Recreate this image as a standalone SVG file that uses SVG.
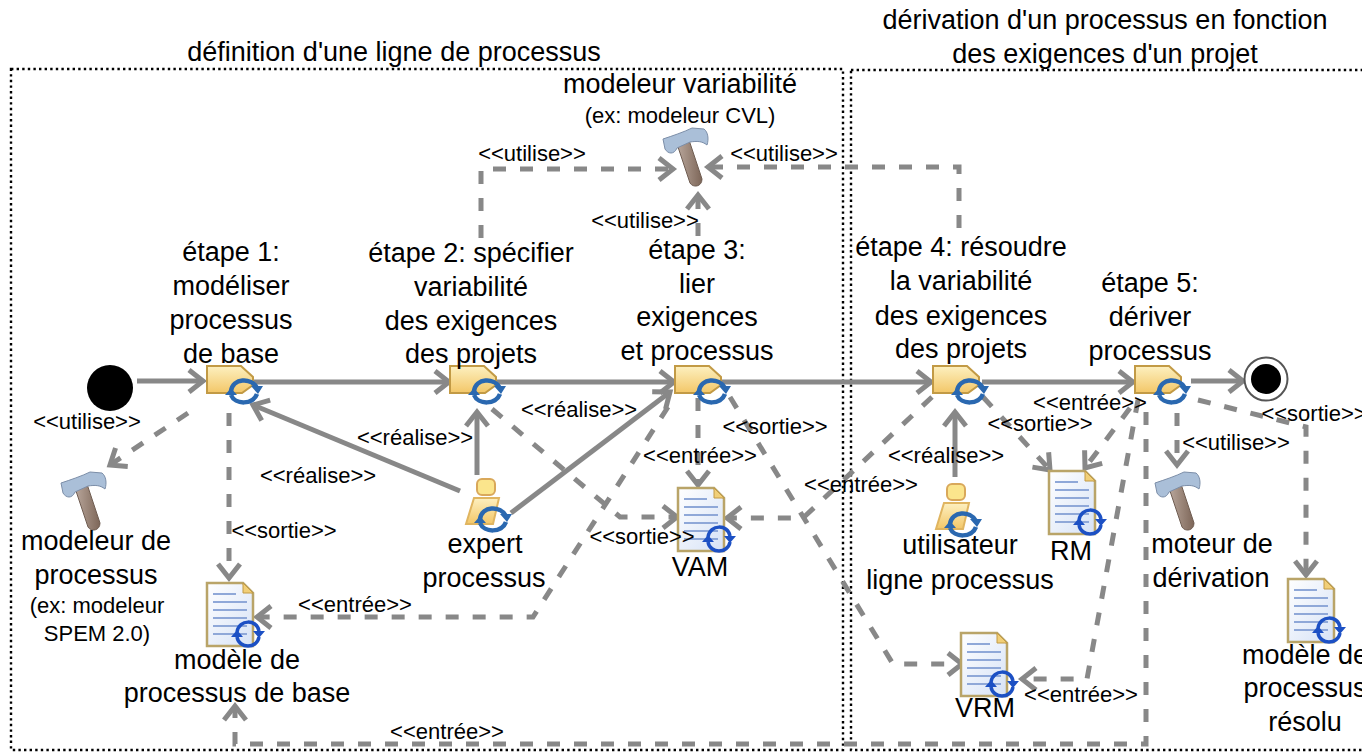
<svg xmlns="http://www.w3.org/2000/svg" width="1362" height="752" viewBox="0 0 1362 752">
<style>
text{font-family:"Liberation Sans",Arial,sans-serif;fill:#000;text-anchor:middle}
.t{font-size:27px}.l{font-size:22px}.s{font-size:22px}
.b{fill:none;stroke:#000;stroke-width:2.4;stroke-dasharray:2.4 3.2}
.c{fill:none;stroke:#888;stroke-width:5}
.d{fill:none;stroke:#888;stroke-width:5;stroke-dasharray:13 14}
</style>
<defs>
<linearGradient id="gt" x1="0" y1="0" x2="0" y2="1"><stop offset="0" stop-color="#fdf0c0"/><stop offset="1" stop-color="#f3c768"/></linearGradient>
<linearGradient id="gd" x1="0" y1="0" x2="1" y2="1"><stop offset="0" stop-color="#fff"/><stop offset="1" stop-color="#d6e2f6"/></linearGradient>
<linearGradient id="gh" x1="0" y1="0" x2="1" y2="0"><stop offset="0" stop-color="#b9a79c"/><stop offset="1" stop-color="#7d6658"/></linearGradient>
<marker id="a" markerUnits="userSpaceOnUse" markerWidth="26" markerHeight="26" refX="16" refY="11" orient="auto" overflow="visible"><path d="M2 0L16 11L2 22" fill="none" stroke="#888" stroke-width="5"/></marker>
<g id="sync" fill="none" stroke="#2a68b0" stroke-width="4.5"><path d="M-13 0C-11 -13 7 -14 13 -3"/><path d="M13 3C9 14 -9 14 -13 4"/><path d="M7 -5H19L14 3Z" fill="#2a68b0" stroke="none"/><path d="M-19 4H-7L-13 -3Z" fill="#2a68b0" stroke="none"/></g>
<g id="sync2" fill="none" stroke="#1c50c4" stroke-width="3.5"><path d="M-11 -2C-9 -15 9 -15 11 -3"/><path d="M11 3C9 15 -9 15 -11 3"/><path d="M5 -3H17L11 4Z" fill="#1c50c4" stroke="none"/><path d="M-17 3H-5L-11 -4Z" fill="#1c50c4" stroke="none"/></g>
<g id="task"><path d="M1 1H35L47 12V20L36 28H1Z" fill="url(#gt)" stroke="#c29a45" stroke-width="2"/><use href="#sync" x="38" y="26"/></g>
<g id="doc"><path d="M1 1H37L47 11V64H1Z" fill="url(#gd)" stroke="#b9a468" stroke-width="2.5"/><path d="M37 1V11H47Z" fill="#f1cf78" stroke="#c29a45"/><path d="M7 12H30M7 20H41M7 28H41M7 36H41M7 44H41M7 52H41" stroke="#8fa8d8" stroke-width="1.8"/><use href="#sync2" x="42" y="52"/></g>
<g id="tool"><path d="M15 16L27 12L40 51C40 59 31 60 28 55Z" fill="url(#gh)" stroke="#6f5d52"/><path d="M1 11C10 8 22 4 30 0L42 1C46 4 47 11 45 17C40 13 35 13 28 14L15 20C12 27 6 26 3 21Z" fill="#aabfd8" stroke="#7c8ea8"/></g>
<g id="actor"><rect x="11" y="1" width="18" height="16" rx="5" fill="#fbe58c" stroke="#d9a85a" stroke-width="2"/><path d="M8 20H33L27 46H0Z" fill="url(#gt)" stroke="#e0b560" stroke-width="2"/><use href="#sync" x="27" y="41"/></g>
</defs>

<g id="frames">
<rect class="b" x="11" y="69" width="832" height="681"/>
<rect class="b" x="851" y="70" width="520" height="680"/>
</g>

<g id="connectors">
<path class="c" d="M137 381H203" marker-end="url(#a)"/>
<path class="c" d="M253 382H449" marker-end="url(#a)"/>
<path class="c" d="M497 382H674" marker-end="url(#a)"/>
<path class="c" d="M722 382H931" marker-end="url(#a)"/>
<path class="c" d="M982 382H1133" marker-end="url(#a)"/>
<path class="c" d="M1191 381H1243" marker-end="url(#a)"/>
<path class="c" d="M460 491L253 405" marker-end="url(#a)"/>
<path class="c" d="M477 475V412" marker-end="url(#a)"/>
<path class="c" d="M511 513L670 392" marker-end="url(#a)"/>
<path class="c" d="M955 477V412" marker-end="url(#a)"/>
<path class="d" d="M188 413L110 465" marker-end="url(#a)"/>
<path class="d" d="M229 413V578" marker-end="url(#a)"/>
<path class="d" d="M481 238V169H673" marker-end="url(#a)"/>
<path class="d" d="M698 236V195" marker-end="url(#a)"/>
<path class="d" d="M959 228V167H708" marker-end="url(#a)"/>
<path class="d" d="M492 409L620 517H677" marker-end="url(#a)"/>
<path class="d" d="M698 398V485" marker-end="url(#a)"/>
<path class="d" d="M668 407L533 617H257" marker-end="url(#a)"/>
<path class="d" d="M730 397L893 664H962" marker-end="url(#a)"/>
<path class="d" d="M932 397L803 518H727" marker-end="url(#a)"/>
<path class="d" d="M983 397L1050 470" marker-end="url(#a)"/>
<path class="d" d="M1130 408L1085 468" marker-end="url(#a)"/>
<path class="d" d="M1138 400L1087 679H1022" marker-end="url(#a)"/>
<path class="d" d="M1146 412V744H235V706" marker-end="url(#a)"/>
<path class="d" d="M1177 413V465" marker-end="url(#a)"/>
<path class="d" d="M1198 400L1306 427V575" marker-end="url(#a)"/>
</g>

<g id="start"><circle cx="110" cy="388" r="23" fill="#000"/></g>
<g id="end"><circle cx="1266" cy="379" r="21.5" fill="#fff" stroke="#555" stroke-width="2"/><circle cx="1266" cy="379" r="15" fill="#000"/></g>

<g id="etape1"><use href="#task" x="206" y="365"/><text class="t" x="231" y="261">étape 1:</text><text class="t" x="231" y="295">modéliser</text><text class="t" x="231" y="329">processus</text><text class="t" x="231" y="363">de base</text></g>
<g id="etape2"><use href="#task" x="449" y="365"/><text class="t" x="471" y="262">étape 2: spécifier</text><text class="t" x="471" y="296">variabilité</text><text class="t" x="471" y="330">des exigences</text><text class="t" x="471" y="363">des projets</text></g>
<g id="etape3"><use href="#task" x="674" y="365"/><text class="t" x="697" y="259">étape 3:</text><text class="t" x="697" y="293">lier</text><text class="t" x="697" y="326">exigences</text><text class="t" x="697" y="360">et processus</text></g>
<g id="etape4"><use href="#task" x="932" y="365"/><text class="t" x="961" y="256">étape 4: résoudre</text><text class="t" x="961" y="290">la variabilité</text><text class="t" x="961" y="325">des exigences</text><text class="t" x="961" y="358">des projets</text></g>
<g id="etape5"><use href="#task" x="1134" y="365"/><text class="t" x="1150" y="292">étape 5:</text><text class="t" x="1150" y="326">dériver</text><text class="t" x="1150" y="360">processus</text></g>

<g id="modeleur-variabilite"><use href="#tool" x="662" y="128"/><text class="t" x="680" y="93">modeleur variabilité</text><text class="s" x="680" y="123">(ex: modeleur CVL)</text></g>
<g id="modeleur-processus"><use href="#tool" x="60" y="472"/><text class="t" x="96" y="550">modeleur de</text><text class="t" x="96" y="584">processus</text><text class="s" x="97" y="613">(ex: modeleur</text><text class="s" x="97" y="641">SPEM 2.0)</text></g>
<g id="moteur"><use href="#tool" x="1154" y="472"/><text class="t" x="1212" y="553">moteur de</text><text class="t" x="1211" y="587">dérivation</text></g>
<g id="expert"><use href="#actor" x="466" y="478"/><text class="t" x="485" y="553">expert</text><text class="t" x="484" y="587">processus</text></g>
<g id="utilisateur"><use href="#actor" x="936" y="483"/><text class="t" x="960" y="554">utilisateur</text><text class="t" x="960" y="589">ligne processus</text></g>
<g id="vam"><use href="#doc" x="677" y="487"/><text class="t" x="700" y="576">VAM</text></g>
<g id="rm"><use href="#doc" x="1048" y="470"/><text class="t" x="1071" y="560">RM</text></g>
<g id="vrm"><use href="#doc" x="960" y="632"/><text class="t" x="985" y="717">VRM</text></g>
<g id="modele-base"><use href="#doc" x="206" y="582"/><text class="t" x="237" y="669">modèle de</text><text class="t" x="237" y="702">processus de base</text></g>
<g id="modele-resolu"><use href="#doc" x="1287" y="578"/><text class="t" x="1305" y="664">modèle de</text><text class="t" x="1305" y="697">processus</text><text class="t" x="1305" y="731">résolu</text></g>

<g id="labels">
<text class="t" x="394" y="61">définition d'une ligne de processus</text>
<text class="t" x="1105" y="29">dérivation d'un processus en fonction</text>
<text class="t" x="1105" y="63">des exigences d'un projet</text>
<text class="l" x="532" y="161">&lt;&lt;utilise&gt;&gt;</text>
<text class="l" x="784" y="161">&lt;&lt;utilise&gt;&gt;</text>
<text class="l" x="645" y="228">&lt;&lt;utilise&gt;&gt;</text>
<text class="l" x="87" y="429">&lt;&lt;utilise&gt;&gt;</text>
<text class="l" x="318" y="483">&lt;&lt;réalise&gt;&gt;</text>
<text class="l" x="415" y="445">&lt;&lt;réalise&gt;&gt;</text>
<text class="l" x="579" y="417">&lt;&lt;réalise&gt;&gt;</text>
<text class="l" x="946" y="463">&lt;&lt;réalise&gt;&gt;</text>
<text class="l" x="284" y="538">&lt;&lt;sortie&gt;&gt;</text>
<text class="l" x="642" y="544">&lt;&lt;sortie&gt;&gt;</text>
<text class="l" x="775" y="434">&lt;&lt;sortie&gt;&gt;</text>
<text class="l" x="1040" y="431">&lt;&lt;sortie&gt;&gt;</text>
<text class="l" x="1314" y="421">&lt;&lt;sortie&gt;&gt;</text>
<text class="l" x="700" y="463">&lt;&lt;entrée&gt;&gt;</text>
<text class="l" x="861" y="492">&lt;&lt;entrée&gt;&gt;</text>
<text class="l" x="355" y="612">&lt;&lt;entrée&gt;&gt;</text>
<text class="l" x="447" y="739">&lt;&lt;entrée&gt;&gt;</text>
<text class="l" x="1081" y="702">&lt;&lt;entrée&gt;&gt;</text>
<text class="l" x="1090" y="410">&lt;&lt;entrée&gt;&gt;</text>
<text class="l" x="1236" y="450">&lt;&lt;utilise&gt;&gt;</text>
</g>
</svg>
